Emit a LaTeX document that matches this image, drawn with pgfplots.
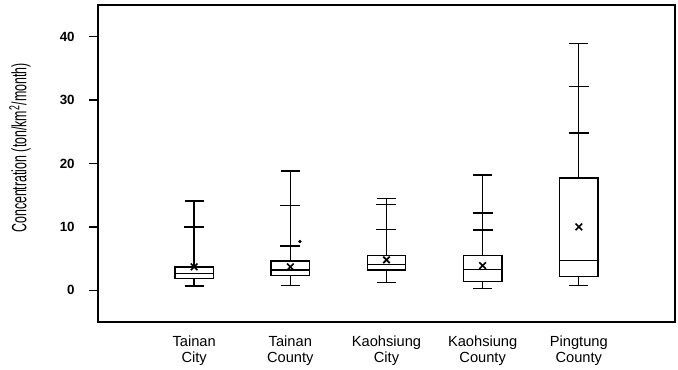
\documentclass[border=0pt]{standalone}
\usepackage{pgfplots}
\pgfplotsset{compat=1.18}
\usepgfplotslibrary{statistics}
\usepackage{fontspec}
\setmainfont{Liberation Sans}
\newfontfamily\narrowfont[FakeStretch=0.6]{Liberation Sans}
\begin{document}
\begin{tikzpicture}
\path[use as bounding box] (-73.5pt,-35.25pt) rectangle (435pt,241.5pt);
\begin{axis}[
  at={(0,0)}, anchor=south west,
  scale only axis, width=432.75pt, height=237.75pt,
  xmin=0, xmax=6, ymin=-5, ymax=45,
  clip=false,
  axis line style={line width=0.9pt},
  xtick={1,2,3,4,5},
  xticklabels={{Tainan\\City},{Tainan\\County},{Kaohsiung\\City},{Kaohsiung\\County},{Pingtung\\County}},
  xticklabel style={align=center, font=\fontsize{11}{12}\selectfont, yshift=-7pt},
  xtick style={draw=none},
  ytick={0,10,20,30,40},
  ytick pos=left,
  ytick style={draw=none},
  yticklabel style={font=\bfseries\fontsize{10}{12}\selectfont, anchor=east, xshift=-14pt},
  /pgf/number format/assume math mode=true,
  ylabel={Concentration (ton/km\textsuperscript{2}/month)},
  ylabel style={at={(axis description cs:-0.1352,0.549)}, anchor=center, font=\narrowfont\fontsize{15.5}{17}\selectfont},
  boxplot/draw direction=y,
  boxplot/box extend=0.4,
  boxplot/whisker extend=0.2,
]
\coordinate (t0) at (axis cs:0,0);
\coordinate (t1) at (axis cs:0,10);
\coordinate (t2) at (axis cs:0,20);
\coordinate (t3) at (axis cs:0,30);
\coordinate (t4) at (axis cs:0,40);
% Tainan City
\addplot[black, line width=1pt, boxplot prepared={draw position=1, lower whisker=0.7, lower quartile=1.9, median=2.6, upper quartile=3.7, upper whisker=14.1}] coordinates {};
% Tainan County
\addplot[black, line width=1pt, boxplot prepared={draw position=2, lower whisker=0.8, lower quartile=2.3, median=3.2, upper quartile=4.6, upper whisker=18.8}] coordinates {};
% Kaohsiung City
\addplot[black, line width=1pt, boxplot prepared={draw position=3, lower whisker=1.2, lower quartile=3.2, median=4.1, upper quartile=5.5, upper whisker=14.5}] coordinates {};
% Kaohsiung County
\addplot[black, line width=1pt, boxplot prepared={draw position=4, lower whisker=0.3, lower quartile=1.4, median=3.3, upper quartile=5.5, upper whisker=18.2}] coordinates {};
% Pingtung County
\addplot[black, line width=1pt, boxplot prepared={draw position=5, lower whisker=0.8, lower quartile=2.2, median=4.7, upper quartile=17.7, upper whisker=38.9}] coordinates {};
% extra percentile ticks on whiskers
\addplot[only marks, mark=-, mark size=7.5pt, mark options={line width=1pt, black}] coordinates {
  (1,10.0) (2,13.4) (2,7.0) (3,13.5) (3,9.6) (4,12.2) (4,9.5) (5,32.1) (5,24.8)
};
% means
\addplot[only marks, mark=x, mark size=3.5pt, mark options={line width=1.2pt, black}] coordinates {
  (1,3.7) (2,3.7) (3,4.8) (4,3.9) (5,10.0)
};
% outlier dot
\addplot[only marks, mark=*, mark size=1pt, black] coordinates {(2.1,7.7)};
\end{axis}
% y-axis tick marks, outside on the left
\foreach \n in {t0,t1,t2,t3,t4} {
  \draw[line width=1pt, black] (\n) -- ++(-7pt,0pt);
}
\end{tikzpicture}
\end{document}
